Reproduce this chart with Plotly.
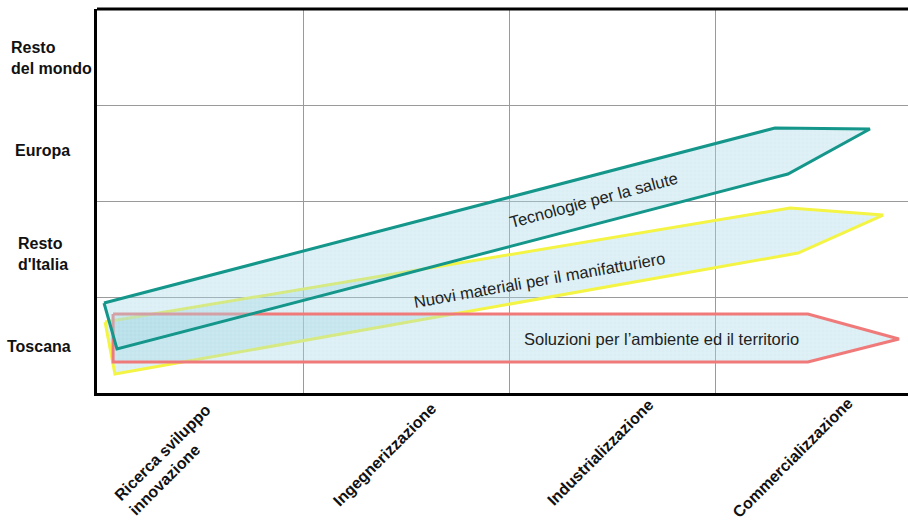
import plotly.graph_objects as go

# Row and column categories
regions = ["Toscana", "Resto<br>d'Italia", "Europa", "Resto<br>del mondo"]
stages = ["Ricerca sviluppo<br>innovazione", "Ingegnerizzazione",
          "Industrializzazione", "Commercializzazione"]

# Arrow outlines (x in stage units, y in region units)
ambiente_x = [0.078, 3.451, 3.893, 3.451, 0.078, 0.078]
ambiente_y = [0.823, 0.823, 0.5625, 0.323, 0.323, 0.823]

materiali_x = [0.039, 3.364, 3.816, 3.403, 0.087, 0.039]
materiali_y = [0.740, 1.927, 1.854, 1.458, 0.198, 0.740]

salute_x = [0.034, 3.291, 3.752, 3.354, 0.097, 0.034]
salute_y = [0.9375, 2.760, 2.750, 2.281, 0.458, 0.9375]

arrow_names = ["Nuovi materiali per il manifatturiero",
               "Soluzioni per l’ambiente ed il territorio",
               "Tecnologie per la salute"]

FONT = "Liberation Sans, Arial, sans-serif"
FILL = "rgba(172,218,232,0.38)"
PATTERN = dict(shape="+", fgcolor="rgba(140,190,210,0.35)", size=4,
               solidity=0.12, fillmode="overlay")

fig = go.Figure()

arrows = [
    (materiali_x, materiali_y, "#f4f444"),
    (ambiente_x, ambiente_y, "#f07a7a"),
    (salute_x, salute_y, "#14968a"),
]
for (xs, ys, col), name in zip(arrows, arrow_names):
    fig.add_trace(go.Scatter(
        x=xs, y=ys, mode="lines", fill="toself", fillcolor=FILL,
        fillpattern=PATTERN, line=dict(color=col, width=3),
        name=name, hoverinfo="name", showlegend=False,
    ))

# Text along each arrow: (x, y, rotation)
arrow_text_pos = [(2.146, 1.177, -10), (2.738, 0.5625, 0), (2.408, 2.010, -15)]
for name, (tx, ty, ang) in zip(arrow_names, arrow_text_pos):
    fig.add_annotation(x=tx, y=ty, xref="x", yref="y", text=name,
                       textangle=ang, showarrow=False,
                       xanchor="center", yanchor="middle",
                       font=dict(family=FONT, size=16.5, color="#222"))

# Region labels on the left (paper x, data y)
region_label_pos = [(-0.114, 0.48), (-0.100, 1.45), (-0.104, 2.53), (-0.108, 3.49)]
for lab, (lx, ly) in zip(regions, region_label_pos):
    fig.add_annotation(x=lx, y=ly, xref="paper", yref="y", text=f"<b>{lab}</b>",
                       xanchor="left", yanchor="middle", align="left",
                       showarrow=False,
                       font=dict(family=FONT, size=16, color="#111"))

# Stage labels below the axis, slanted
stage_label_pos = [(0.354, -0.1745), (1.398, -0.161), (2.442, -0.154), (3.379, -0.169)]
for lab, (lx, ly) in zip(stages, stage_label_pos):
    fig.add_annotation(x=lx, y=ly, xref="x", yref="paper", text=f"<b>{lab}</b>",
                       textangle=-45, align="left", showarrow=False,
                       xanchor="center", yanchor="middle",
                       font=dict(family=FONT, size=16, color="#111"))

# Top border
fig.add_shape(type="line", xref="paper", yref="paper", x0=0, x1=1, y0=1, y1=1,
              line=dict(color="black", width=3))

fig.update_xaxes(range=[0, 811 / 206], showgrid=False, showticklabels=False,
                 ticks="", zeroline=False, showline=True, linecolor="black",
                 linewidth=3, fixedrange=True,
                 minor=dict(tickmode="array", tickvals=[1, 2, 3], showgrid=True,
                            gridcolor="#9a9a9a", gridwidth=1, ticks=""))
fig.update_yaxes(range=[0, 4], showgrid=False, showticklabels=False,
                 ticks="", zeroline=False, showline=True, linecolor="black",
                 linewidth=3, fixedrange=True,
                 minor=dict(tickmode="array", tickvals=[1, 2, 3], showgrid=True,
                            gridcolor="#9a9a9a", gridwidth=1, ticks=""))

fig.update_layout(width=908, height=522,
                  margin=dict(l=97, r=0, t=9, b=129),
                  paper_bgcolor="white", plot_bgcolor="white",
                  font=dict(family=FONT))

fig.write_html("out.html")
